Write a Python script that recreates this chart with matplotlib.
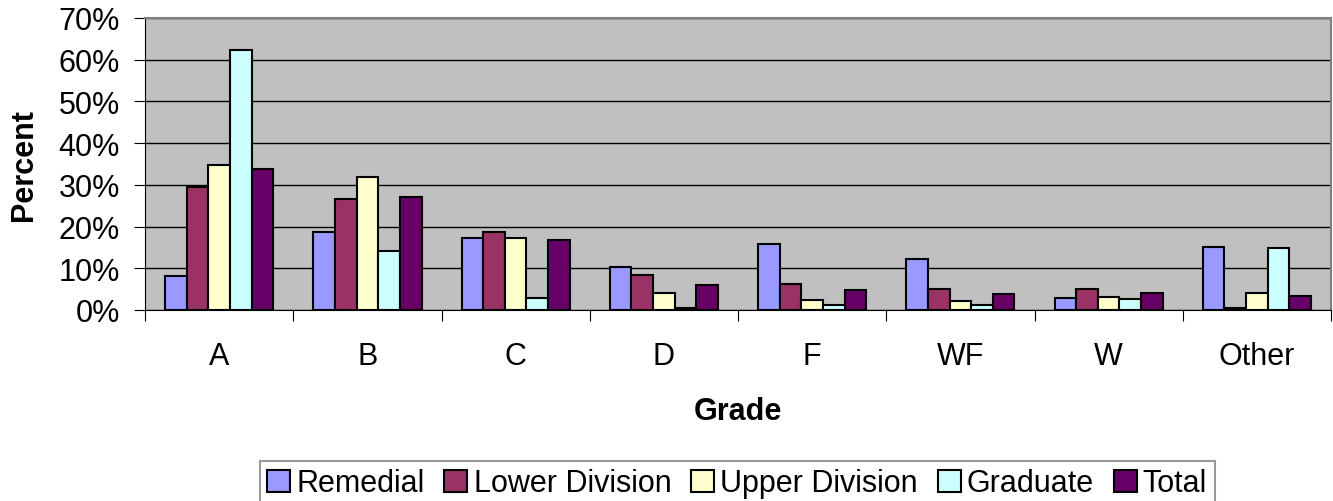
import matplotlib
matplotlib.use('Agg')
import matplotlib.pyplot as plt
import numpy as np
from matplotlib.patches import Patch

grades = ['A', 'B', 'C', 'D', 'F', 'WF', 'W', 'Other']
remedial = [8.2, 18.6, 17.2, 10.4, 15.7, 12.2, 2.8, 15.2]
lower_div = [29.4, 26.7, 18.6, 8.3, 6.3, 5.1, 5.1, 0.5]
upper_div = [34.7, 31.8, 17.3, 4.0, 2.5, 2.1, 3.1, 4.1]
graduate = [62.4, 14.2, 2.8, 0.5, 1.2, 1.2, 2.7, 14.8]
total = [33.7, 27.1, 16.7, 6.1, 4.8, 3.9, 4.1, 3.4]

series = ['Remedial', 'Lower Division', 'Upper Division', 'Graduate', 'Total']
colors = ['#9999FF', '#993366', '#FFFFCC', '#CCFFFF', '#660066']

plt.rcParams['font.family'] = ['Liberation Sans', 'DejaVu Sans']
fs = 22

fig = plt.figure(figsize=(13.33, 5.02), dpi=100)
ax = fig.add_axes([0.1088, 0.3805, 0.8897, 0.5817])
ax.set_facecolor('#C0C0C0')

x = np.arange(len(grades))
w = 0.146
for i, (vals, col) in enumerate(zip([remedial, lower_div, upper_div, graduate, total], colors)):
    ax.bar(x + (i - 2) * w, vals, w, color=col, edgecolor='black', linewidth=1.5, zorder=3)

ax.set_ylim(0, 70)
ax.set_yticks(range(0, 71, 10))
ax.set_yticklabels([f'{v}%' for v in range(0, 71, 10)], fontsize=fs)
ax.yaxis.grid(True, color='black', linewidth=1, zorder=1)
ax.set_xlim(-0.5, len(grades) - 0.5)
ax.set_xticks(np.arange(-0.5, len(grades), 1))
ax.set_xticklabels([])
ax.set_xticks(x, minor=True)
ax.set_xticklabels(grades, minor=True, fontsize=fs)
ax.tick_params(axis='x', which='major', length=8, color='black', direction='out')
ax.tick_params(axis='x', which='minor', length=0, pad=22)
ax.tick_params(axis='y', length=8, direction='out', pad=10)

for s in ['top', 'right']:
    ax.spines[s].set_color('#808080')
    ax.spines[s].set_linewidth(1.5)
ax.spines['left'].set_color('black')
ax.spines['bottom'].set_color('black')

ax.set_ylabel('Percent', fontsize=fs, fontweight='bold', labelpad=14)
ax.set_xlabel('Grade', fontsize=fs, fontweight='bold', labelpad=18)

handles = [Patch(facecolor=c, edgecolor='black', linewidth=1.5) for c in colors]
leg = fig.legend(handles, series, loc='lower center', bbox_to_anchor=(0.553, -0.01),
                 ncol=5, fontsize=fs, frameon=True, fancybox=False, edgecolor='#808080',
                 handlelength=0.75, handleheight=0.75, handletextpad=0.2,
                 columnspacing=0.65, borderpad=0.25, borderaxespad=0.0)
leg.get_frame().set_linewidth(1.5)

fig.savefig('out.png', dpi=100)
